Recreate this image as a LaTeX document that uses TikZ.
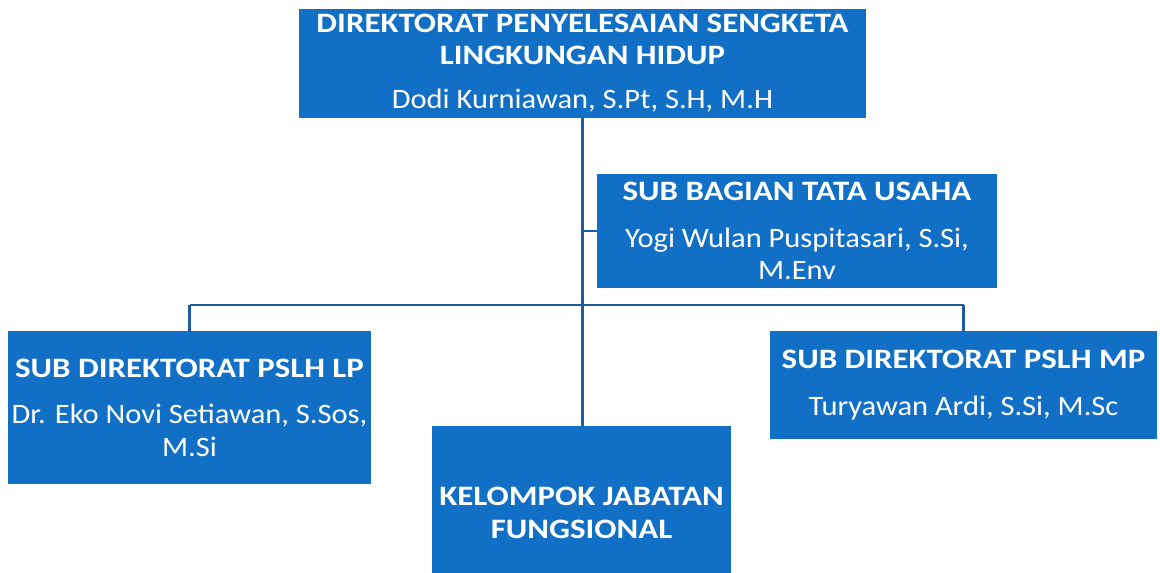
\documentclass[tikz,border=0pt]{standalone}
\usepackage{fontspec}
\setmainfont{Carlito}[UprightFeatures={FakeStretch=1.085}, BoldFeatures={FakeStretch=1.17}]
\usetikzlibrary{calc}
\definecolor{boxblue}{RGB}{17,112,198}
\definecolor{lineblue}{RGB}{30,92,160}

\begin{document}
\begin{tikzpicture}[x=0.02cm, y=-0.02cm,
		unitbox/.style={fill=boxblue, draw=none, text=white, align=center, inner sep=0pt, font=\fontsize{16}{18.5}\selectfont},
		link/.style={draw=lineblue, line width=1.6pt}]
			%%%%% START %%%%%
			\useasboundingbox (0, 0) rectangle (1160, 572);
			
			\node[unitbox, minimum width=567*0.02cm, minimum height=109*0.02cm] (dir) at (582.5, 63)
				{\textbf{DIREKTORAT PENYELESAIAN SENGKETA}\\ \textbf{LINGKUNGAN HIDUP}\\[6.5pt] Dodi Kurniawan, S.Pt, S.H, M.H};
			
			\node[unitbox, minimum width=400*0.02cm, minimum height=114*0.02cm] (tu) at (797, 231)
				{\textbf{SUB BAGIAN TATA USAHA}\\[8pt] Yogi Wulan Puspitasari, S.Si,\\ M.Env};
			
			\node[unitbox, minimum width=363*0.02cm, minimum height=153*0.02cm] (lp) at (189.5, 407.5)
				{\textbf{SUB DIREKTORAT PSLH LP}\\[8pt] Dr. Eko Novi Setiawan, S.Sos,\\ M.Si};
			
			\node[unitbox, minimum width=387*0.02cm, minimum height=108*0.02cm] (mp) at (963.5, 385)
				{\textbf{SUB DIREKTORAT PSLH MP}\\[8pt] Turyawan Ardi, S.Si, M.Sc};
			
			\node[unitbox, minimum width=299*0.02cm, minimum height=174*0.02cm] (jf) at (581.5, 513)
				{\textbf{KELOMPOK JABATAN}\\ \textbf{FUNGSIONAL}};
			
			\coordinate (bar) at (583, 305);
			
			\draw[link] (dir.south) -- (dir.south |- jf.north);
			\draw[link] (dir.south |- tu.west) -- (tu.west);
			\draw[link] (lp.north |- bar) -- (mp.north |- bar);
			\draw[link] (lp.north |- bar) -- (lp.north);
			\draw[link] (mp.north |- bar) -- (mp.north);
			%%%%% END %%%%%
		\end{tikzpicture}
\end{document}
